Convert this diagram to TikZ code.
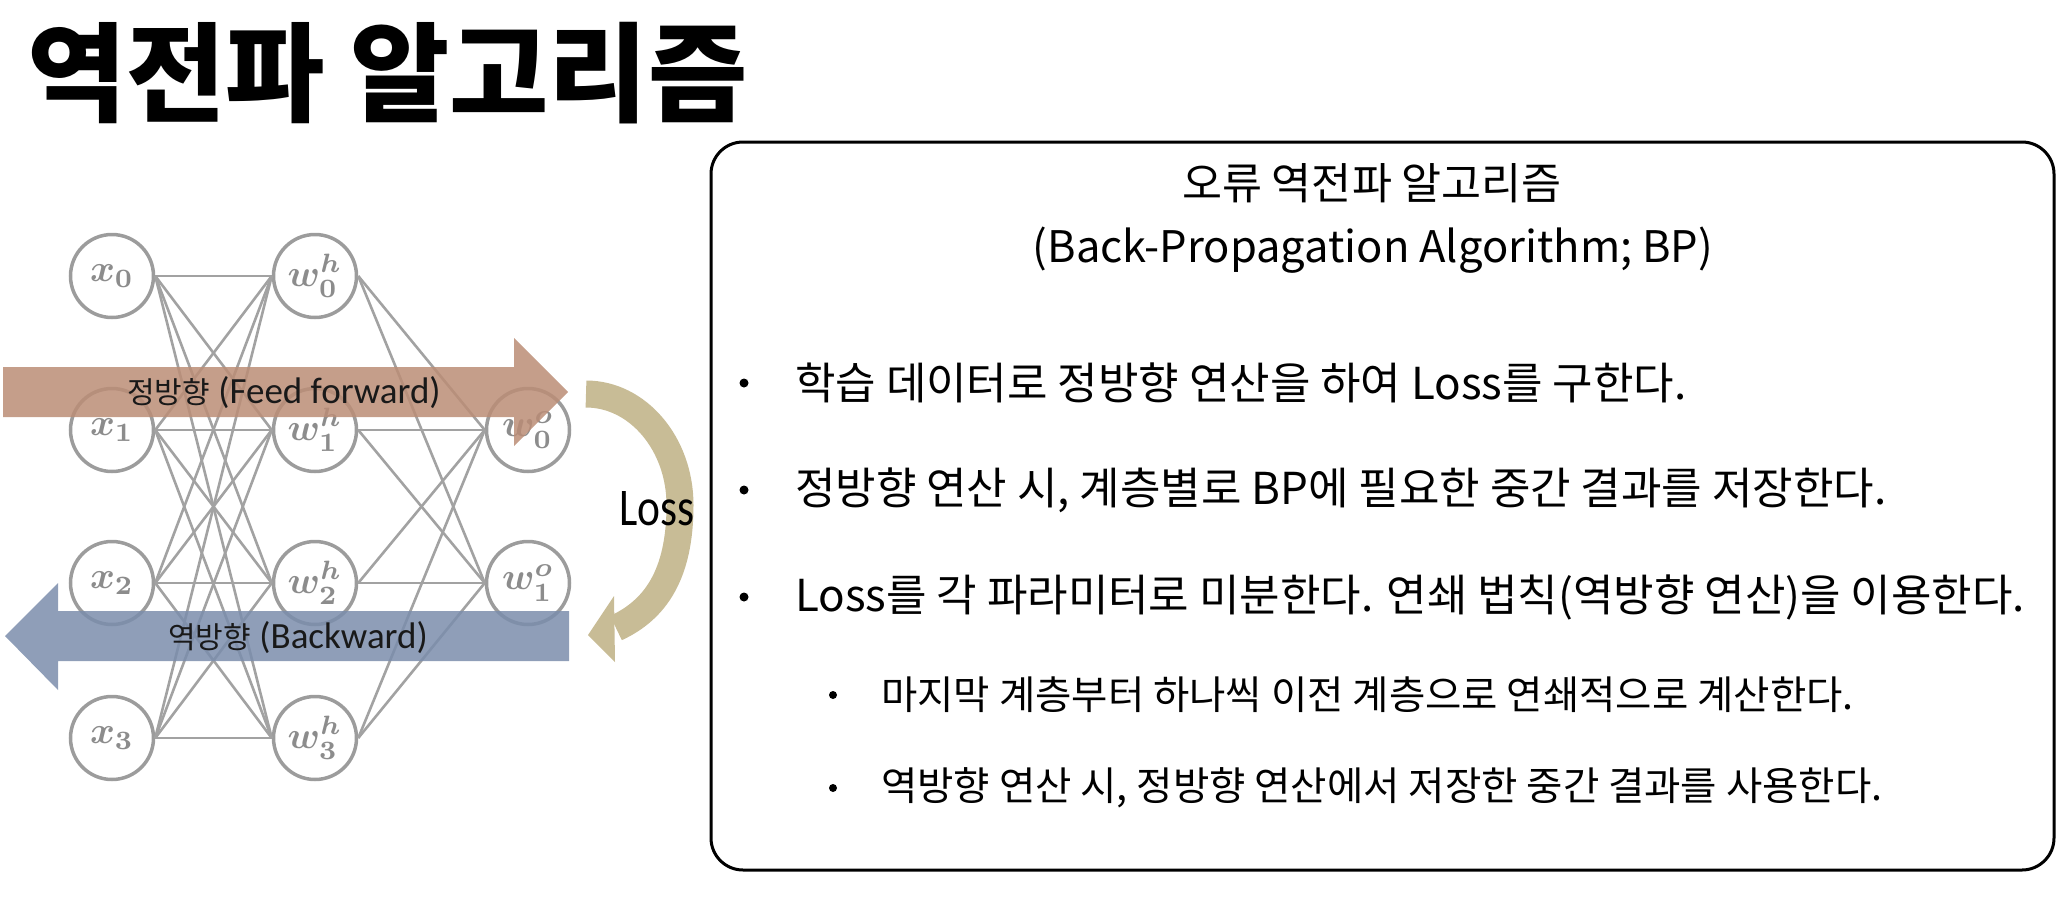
\documentclass[tikz,border=0pt]{standalone}
\usepackage{graphicx}
\usepackage{fontspec}
\newfontfamily\kr{Noto Sans CJK KR}
\IfFontExistsTF{Noto Sans CJK KR Black}
  {\newfontfamily\krtitle{Noto Sans CJK KR Black}}
  {\newfontfamily\krtitle{Noto Sans CJK KR}[FakeBold=1.2]}
\newfontfamily\carl{Carlito}
\newfontfamily\carlnarrow{Carlito}[FakeStretch=0.82]
\newcommand{\nlbl}[1]{\scalebox{3.8}{\boldmath$#1$}}
\definecolor{nodegray}{HTML}{9C9C9C}
\definecolor{edgegray}{HTML}{A2A2A2}
\definecolor{labelgray}{HTML}{8C8C8C}
\definecolor{fwdc}{HTML}{BB8D76}
\definecolor{bwdc}{HTML}{7B8DAC}
\definecolor{lossc}{HTML}{C8BC96}
\tikzset{
  neuron/.style={circle, draw=nodegray, line width=3.5bp, minimum size=83bp, inner sep=0pt,
    text=labelgray},
  edge/.style={draw=edgegray, line width=2.6bp},
  boxtext/.style={inner sep=0pt, anchor=west, font=\kr\fontsize{44bp}{52bp}\selectfont},
  subtext/.style={inner sep=0pt, anchor=west, font=\kr\fontsize{39.5bp}{46bp}\selectfont},
  headtext/.style={inner sep=0pt, font=\kr\fontsize{43.5bp}{52bp}\selectfont},
  bulletdot/.style={circle, fill=black, inner sep=0pt, minimum size=9bp},
  subdot/.style={circle, fill=black, inner sep=0pt, minimum size=8bp},
  arrowlabel/.style={inner sep=0pt, text=black!90},
}
\begin{document}
\begin{tikzpicture}[x=1bp, y={(0,-1bp)}]
\useasboundingbox (0,0) rectangle (2066,910);
% title
\node[inner sep=0pt, anchor=west, font=\krtitle\fontsize{108bp}{118bp}\selectfont] (title) at (27,73) {역전파 알고리즘};
% network nodes
\foreach \i/\y in {0/276,1/430,2/583,3/738} {
  \node[neuron] (x\i) at (112,\y) {\nlbl{x_{\i}}};
  \node[neuron] (h\i) at (315,\y) {\nlbl{w_{\i}^{h}}};
}
\node[neuron] (o0) at (528,430) {\nlbl{w_{0}^{o}}};
\node[neuron] (o1) at (528,583) {\nlbl{w_{1}^{o}}};
\foreach \i in {0,...,3} \foreach \j in {0,...,3} \draw[edge] (x\i.east) -- (h\j.west);
\foreach \j in {0,...,3} \foreach \k in {0,1} \draw[edge] (h\j.east) -- (o\k.west);
% forward arrow
\fill[fwdc, fill opacity=0.85] (3,367) -- (514,367) -- (514,338) -- (568,392) -- (514,446) -- (514,417) -- (3,417) -- cycle;
\node[arrowlabel] (fwd) at (284,393) {{\kr\fontsize{30bp}{36bp}\selectfont 정방향}{\carl\fontsize{37bp}{44bp}\selectfont\space(Feed forward)}};
% backward arrow
\fill[bwdc, fill opacity=0.85] (569,611) -- (58,611) -- (58,583) -- (5,636) -- (58,690) -- (58,661) -- (569,661) -- cycle;
\node[arrowlabel] (bwd) at (298,638) {{\kr\fontsize{30bp}{36bp}\selectfont 역방향}{\carl\fontsize{37bp}{44bp}\selectfont\space(Backward)}};
% loss arrow
\coordinate (ls) at (586,394);
\coordinate (lm) at (680,505);
\coordinate (le) at (616,628);
\draw[lossc, line width=27bp] (ls) .. controls (638,394) and (680,444) .. (lm) .. controls (680,575) and (655,610) .. (le);
\fill[lossc] (588,635) -- (614,596) -- (615,662) -- cycle;
\node[inner sep=0pt, font=\carlnarrow\fontsize{53bp}{60bp}\selectfont] (loss) at (657,509) {Loss};
% box
\draw[line width=3bp, rounded corners=32bp] (711,142) rectangle (2054,870);
\node[headtext] (h1) at (1372,183) {오류 역전파 알고리즘};
\node[headtext] (h2) at (1373,250) {(Back-Propagation Algorithm; BP)};
\node[bulletdot] (d1) at (744,383) {};
\node[boxtext] (b1) at (795,383) {학습 데이터로 정방향 연산을 하여 Loss를 구한다.};
\node[bulletdot] (d2) at (744,490) {};
\node[boxtext] (b2) at (795,490) {정방향 연산 시, 계층별로 BP에 필요한 중간 결과를 저장한다.};
\node[bulletdot] (d3) at (744,597) {};
\node[boxtext] (b3) at (795,597) {Loss를 각 파라미터로 미분한다. 연쇄 법칙(역방향 연산)을 이용한다.};
\node[subdot] (d4) at (833,695) {};
\node[subtext] (s1) at (881,695) {마지막 계층부터 하나씩 이전 계층으로 연쇄적으로 계산한다.};
\node[subdot] (d5) at (833,788) {};
\node[subtext] (s2) at (881,788) {역방향 연산 시, 정방향 연산에서 저장한 중간 결과를 사용한다.};
\end{tikzpicture}
\end{document}
